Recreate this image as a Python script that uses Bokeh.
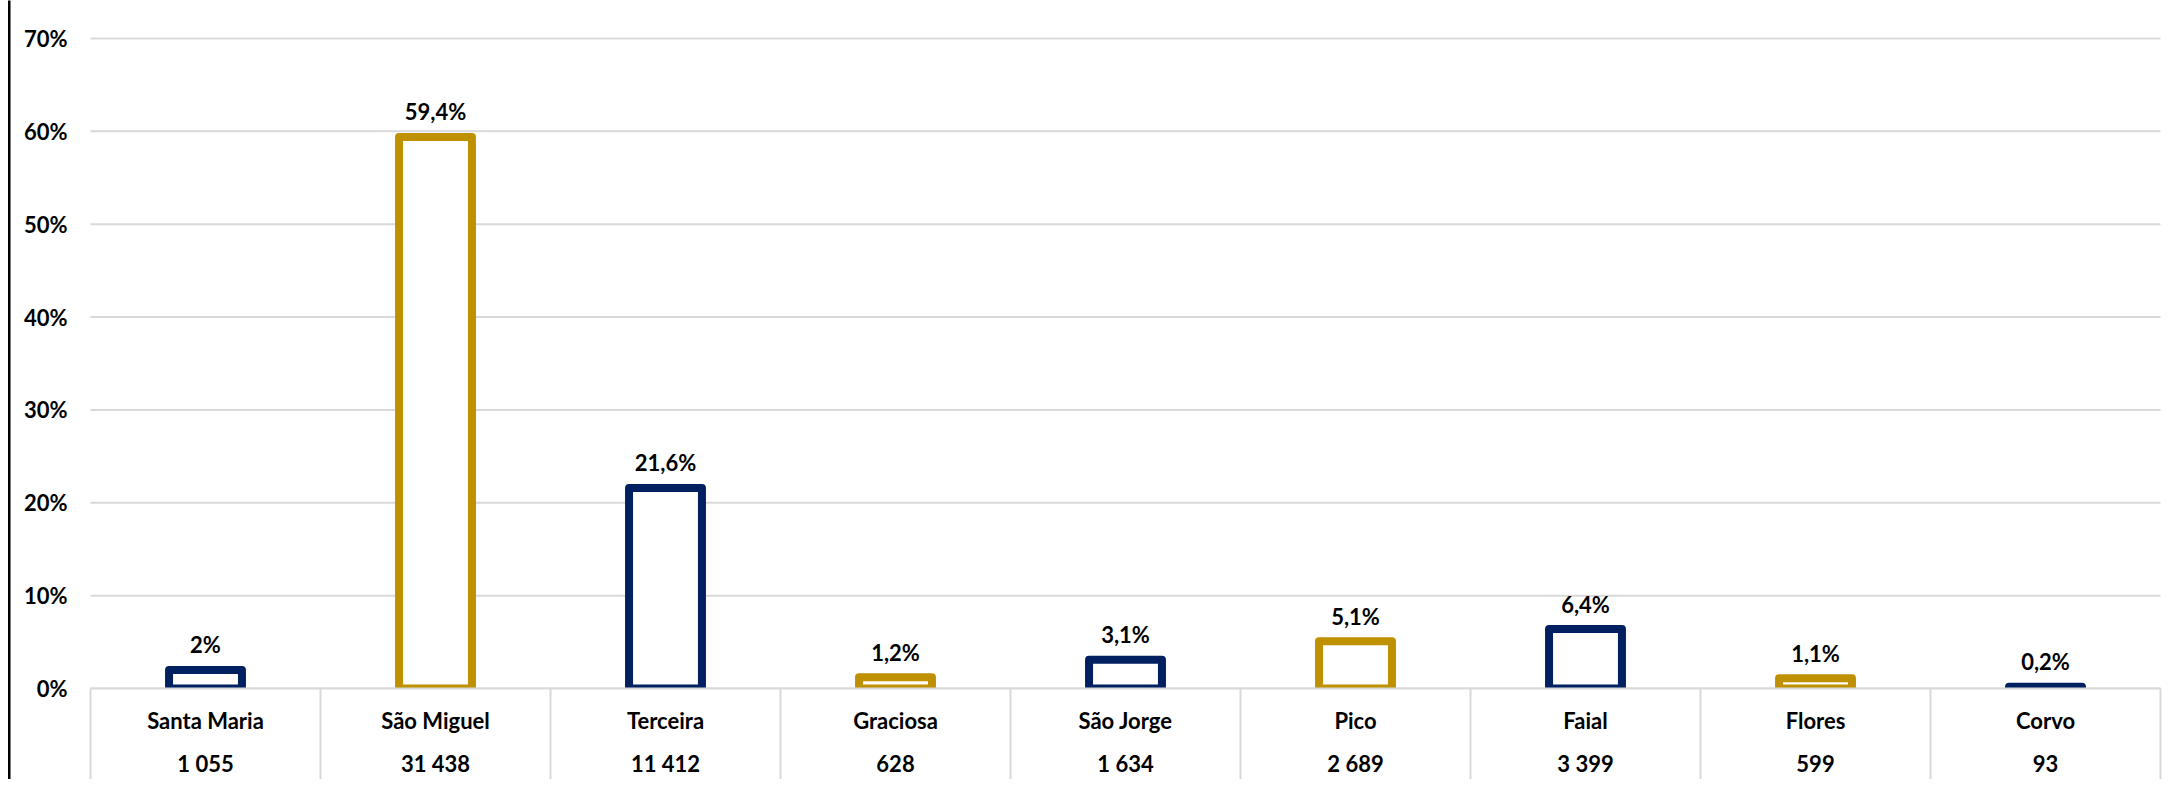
from bokeh.plotting import figure
from bokeh.models import Range1d, FixedTicker, ColumnDataSource
from bokeh.core.properties import value
from bokeh.embed import file_html
from bokeh.resources import INLINE

# ---- data ----
islands = ["Santa Maria", "São Miguel", "Terceira", "Graciosa", "São Jorge",
           "Pico", "Faial", "Flores", "Corvo"]
counts = ["1 055", "31 438", "11 412", "628", "1 634", "2 689", "3 399", "599", "93"]
pct = [2.0, 59.4, 21.6, 1.2, 3.1, 5.1, 6.4, 1.1, 0.2]
pct_labels = ["2%", "59,4%", "21,6%", "1,2%", "3,1%", "5,1%", "6,4%", "1,1%", "0,2%"]
y_ticks = [0, 10, 20, 30, 40, 50, 60, 70]
y_tick_labels = ["0%", "10%", "20%", "30%", "40%", "50%", "60%", "70%"]

NAVY = "#002060"
GOLD = "#BF9000"
GRID = "#d9d9d9"
colors = [NAVY if i % 2 == 0 else GOLD for i in range(len(islands))]

# ---- layout (pixels) ----
W, H = 2166, 779
PLOT_L, CAT_W = 90.0, 230.0          # left edge of first category, width of a category
Y0_PX, PX_PER_PCT = 688.0, 650.0 / 70
n = len(islands)

x_start = -PLOT_L / CAT_W
x_end = (W - PLOT_L) / CAT_W
y_top = Y0_PX / PX_PER_PCT
y_bot = -(H - Y0_PX) / PX_PER_PCT

FONT = value("Lato")
centers = [i + 0.5 for i in range(n)]
bounds_x = list(range(n + 1))

p = figure(width=W, height=H, output_backend="svg", toolbar_location=None,
           x_range=Range1d(x_start, x_end), y_range=Range1d(y_bot, y_top),
           x_axis_location=None, y_axis_location="left",
           min_border_left=0, min_border_right=0, min_border_top=0, min_border_bottom=0,
           tools="")
p.outline_line_color = None
p.background_fill_color = "white"
p.border_fill_color = "white"
p.xgrid.visible = False
p.ygrid.visible = False

# y axis placed inside the frame at the left edge of the categories
yax = p.yaxis[0]
yax.fixed_location = 0
yax.ticker = FixedTicker(ticks=y_ticks)
yax.major_label_overrides = {t: l for t, l in zip(y_ticks, y_tick_labels)}
yax.axis_line_color = None
yax.major_tick_line_color = None
yax.minor_tick_line_color = None
yax.major_tick_out = 0
yax.major_tick_in = 0
yax.major_label_standoff = 23
yax.major_label_text_font = "Lato"
yax.major_label_text_font_style = "bold"
yax.major_label_text_font_size = "22px"
yax.major_label_text_color = "black"

# horizontal gridlines
p.segment(x0=[0] * len(y_ticks), x1=[n] * len(y_ticks), y0=y_ticks, y1=y_ticks,
          line_color=GRID, line_width=2)

src = ColumnDataSource(dict(x=centers, top=pct, color=colors, lab=pct_labels,
                            name=islands, cnt=counts))

p.vbar(x="x", top="top", bottom=0, width=0.317, source=src,
       fill_color="white", line_color="color", line_width=8, line_join="round")

# cover area below zero (table region)
p.quad(left=0, right=n, bottom=y_bot - 1, top=0, fill_color="white", line_color=None)

# table lines
p.segment(x0=0, x1=n, y0=0, y1=0, line_color=GRID, line_width=2)
p.segment(x0=bounds_x, x1=bounds_x, y0=[0] * len(bounds_x), y1=[y_bot - 1] * len(bounds_x),
          line_color=GRID, line_width=2)

# value labels
p.text(x="x", y="top", text="lab", source=src, text_font=FONT, text_font_style="bold",
       text_font_size="22px", text_align="center", text_baseline="alphabetic",
       y_offset=-25, text_color="black")

# table text
p.text(x="x", y=-(720 - Y0_PX) / PX_PER_PCT, text="name", source=src, text_font=FONT,
       text_font_style="bold", text_font_size="22px", text_align="center",
       text_baseline="alphabetic", text_color="black")
p.text(x="x", y=-(763 - Y0_PX) / PX_PER_PCT, text="cnt", source=src, text_font=FONT,
       text_font_style="bold", text_font_size="22px", text_align="center",
       text_baseline="alphabetic", text_color="black")

# left border line of the chart box
p.quad(left=x_start + 7.5 / CAT_W, right=x_start + 10 / CAT_W, bottom=y_bot - 1, top=y_top + 1,
       fill_color="black", line_color=None)

open("out.html", "w").write(file_html(p, INLINE))
